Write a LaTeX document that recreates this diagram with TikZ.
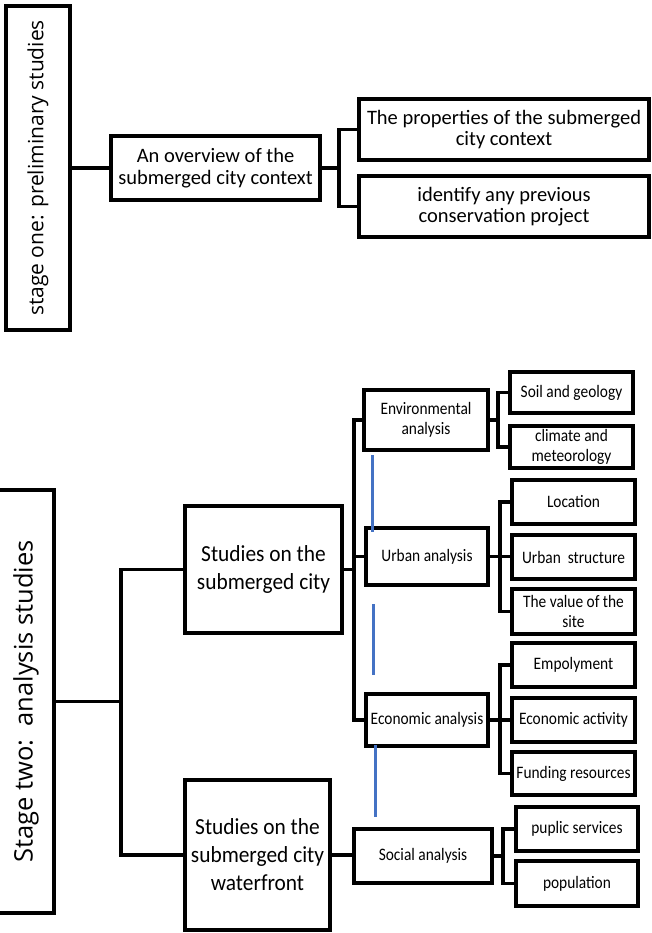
\documentclass[tikz,border=0pt]{standalone}
\usepackage{fontspec}
\setmainfont{Carlito}
\newfontfamily\stagefont{Open Sans}
\newfontfamily\condfont{Carlito}[FakeStretch=0.88]
\newfontfamily\midfont{Carlito}[FakeStretch=0.93]
\definecolor{blueln}{RGB}{68,114,196}
\begin{document}
\begin{tikzpicture}[x=1pt,y=-1pt,
  box/.style={draw=black, line width=3.3pt, inner sep=0pt, align=center, fill=white},
  conn/.style={draw=black, line width=3.3pt},
  blueline/.style={draw=blueln, line width=3pt},
  big/.style={font=\fontsize{20.5}{21.5}\selectfont},
  mid/.style={font=\midfont\fontsize{23}{28}\selectfont},
  small/.style={font=\condfont\fontsize{17.5}{20}\selectfont},
  stg/.style={font=\stagefont\fontsize{21}{25}\selectfont}]
\useasboundingbox (0,0) rectangle (651,933);

% ---------- stage one ----------
\node[box, stg, rotate=90, minimum width=324, minimum height=64] (s1) at (38,168) {stage one: preliminary studies};
\node[box, big, minimum width=209, minimum height=64] (ov) at (215.5,168) {An overview of the\\submerged city context};
\node[box, big, minimum width=290, minimum height=61] (props) at (504,129.5) {The properties of the submerged\\city context};
\node[box, big, minimum width=290, minimum height=61] (ident) at (504,206.5) {identify any previous\\conservation project};

\draw[conn] (s1) -- (ov);
\coordinate (b1) at (339,168);
\draw[conn] (ov.east) -- (b1);
\draw[conn] (props.west) -| (b1) |- (ident.west);

% ---------- stage two ----------
\node[box, stg, font=\stagefont\fontsize{25.5}{30}\selectfont, rotate=90, minimum width=423, minimum height=56] (s2) at (26,701.5) {Stage two:\ \ analysis studies};
\node[box, mid, minimum width=157, minimum height=127] (city) at (263.5,569.5) {Studies on the\\submerged city};
\node[box, mid, minimum width=145, minimum height=150] (wf) at (257.5,855) {Studies on the\\submerged city\\waterfront};

\node[box, small, minimum width=124, minimum height=60] (env) at (426,420) {Environmental\\analysis};
\node[box, small, minimum width=122, minimum height=57] (ur) at (427,556.5) {Urban analysis};
\node[box, small, minimum width=122, minimum height=52] (eco) at (427,720) {Economic analysis};
\node[box, small, minimum width=138, minimum height=54] (soc) at (423,856) {Social analysis};

\node[box, small, minimum width=123, minimum height=41] (soil) at (571.5,392.5) {Soil and geology};
\node[box, small, minimum width=123, minimum height=42] (clim) at (571.5,447) {climate and\\meteorology};
\node[box, small, minimum width=123, minimum height=44] (loc) at (573.5,502) {Location};
\node[box, small, minimum width=123, minimum height=44] (str) at (573.5,557) {Urban\ \ structure};
\node[box, small, minimum width=123, minimum height=45] (val) at (573.5,611.5) {The value of the\\site};
\node[box, small, minimum width=123, minimum height=44] (emp) at (573.5,665) {Empolyment};
\node[box, small, minimum width=123, minimum height=44] (act) at (573.5,720) {Economic activity};
\node[box, small, minimum width=123, minimum height=43] (fund) at (573.5,773.5) {Funding resources};
\node[box, small, minimum width=122, minimum height=44] (pup) at (577,829) {puplic services};
\node[box, small, minimum width=122, minimum height=45] (pop) at (577,883.5) {population};

% connectors
\coordinate (b5) at (121,701.5);
\draw[conn] (s2) -- (b5);
\draw[conn] (city.west) -| (b5) |- (wf.west);

\coordinate (b6) at (354,569.5);
\draw[conn] (city.east) -- (b6);
\draw[conn] (env.west) -| (b6) |- (eco.west);
\draw[conn] (ur.west) -- (ur.west -| b6);

\coordinate (b7) at (498,420);
\draw[conn] (env.east) -- (b7);
\draw[conn] (soil.west) -| (b7) |- (clim.west);

\coordinate (b8) at (500,556.5);
\draw[conn] (ur.east) -- (ur.east -| str.west);
\draw[conn] (loc.west) -| (b8) |- (val.west);

\coordinate (b9) at (500,720);
\draw[conn] (eco.east) -- (eco.east -| act.west);
\draw[conn] (emp.west) -| (b9) |- (fund.west);

\draw[conn] (wf.east) -- (wf.east -| soc.west);
\coordinate (b10) at (503,856);
\draw[conn] (soc.east) -- (b10);
\draw[conn] (pup.west) -| (b10) |- (pop.west);

% blue lines
\coordinate (u1) at (372,455); \coordinate (u2) at (372,532);
\coordinate (u3) at (373,604); \coordinate (u4) at (373,675);
\coordinate (u5) at (375,745); \coordinate (u6) at (375,817);
\draw[blueline] (u1) -- (u2);
\draw[blueline] (u3) -- (u4);
\draw[blueline] (u5) -- (u6);
\end{tikzpicture}
\end{document}
